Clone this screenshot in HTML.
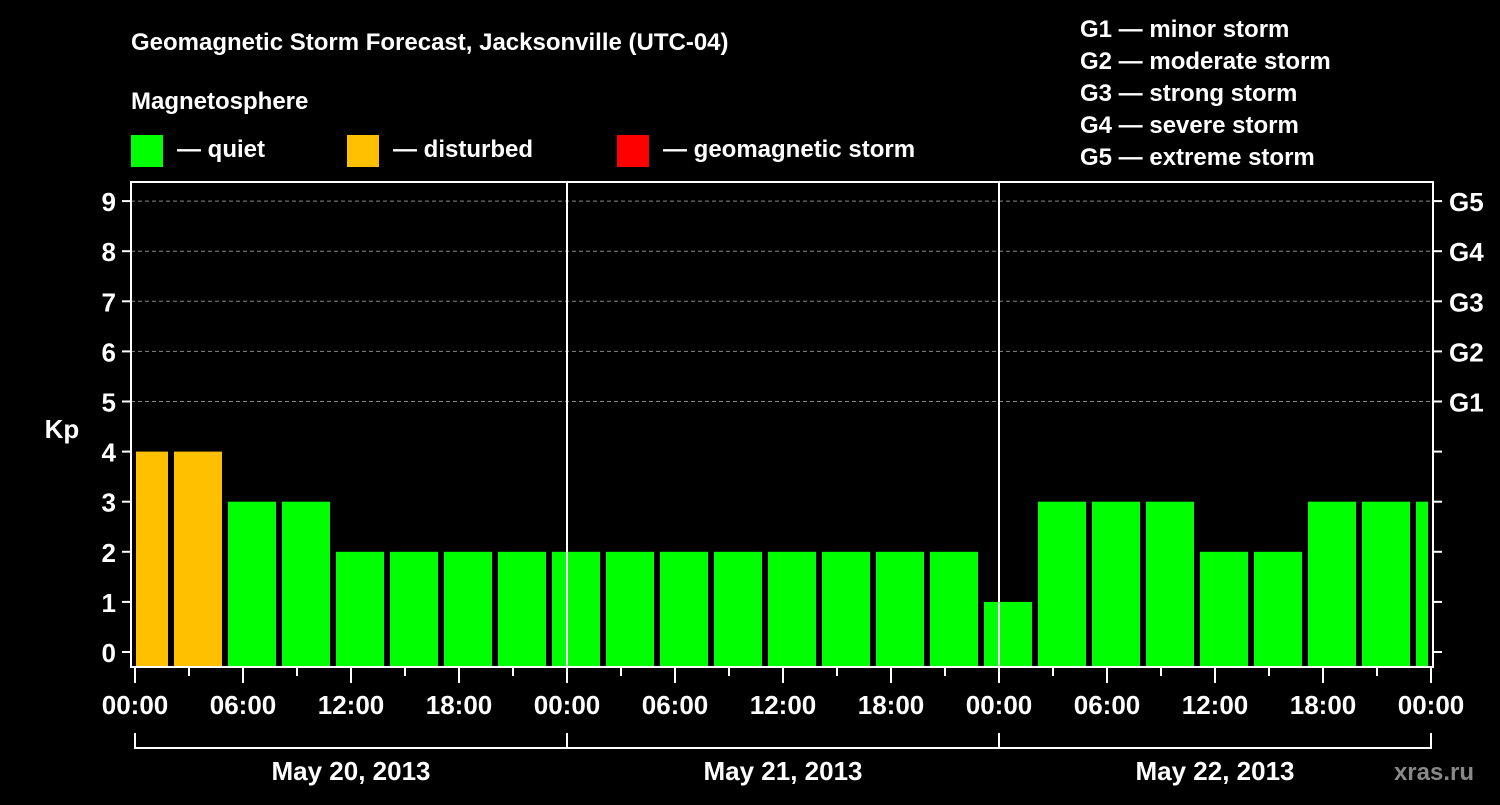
<!DOCTYPE html>
<html><head><meta charset="utf-8"><style>
body{margin:0;background:#000;width:1500px;height:800px;overflow:hidden}
svg text{font-family:"Liberation Sans",Arial,sans-serif;font-weight:bold;fill:#fff}
</style></head><body>
<svg id="c" width="1500" height="800">
<text x="131" y="50" font-size="24">Geomagnetic Storm Forecast, Jacksonville (UTC-04)</text>
<text x="131" y="109" font-size="24">Magnetosphere</text>
<g><rect x="131" y="135" width="32" height="32" fill="#00ff00"/><text x="177" y="157" font-size="24">— quiet</text></g>
<g><rect x="347" y="135" width="32" height="32" fill="#ffc000"/><text x="393" y="157" font-size="24">— disturbed</text></g>
<g><rect x="617" y="135" width="32" height="32" fill="#ff0000"/><text x="663" y="157" font-size="24">— geomagnetic storm</text></g>
<g font-size="24">
<text x="1080" y="37">G1 — minor storm</text><text x="1080" y="69">G2 — moderate storm</text><text x="1080" y="101">G3 — strong storm</text><text x="1080" y="133">G4 — severe storm</text><text x="1080" y="165">G5 — extreme storm</text></g>
<text x="62" y="438" font-size="26" text-anchor="middle">Kp</text>
<text x="1475" y="1810" font-size="24" text-anchor="end" fill="#999" style="fill:#999"></text>
<text x="1474" y="780" font-size="24" text-anchor="end" style="fill:#888">xras.ru</text>
<g id="g"></g>
</svg>
<script>
const kpValues=[4,4,3,3,2,2,2,2,2,2,2,2,2,2,2,2,1,3,3,3,2,2,3,3,3];
const yTicks=[0,1,2,3,4,5,6,7,8,9];
const gLabels=["G1","G2","G3","G4","G5"];
const gLevels=[5,6,7,8,9];
const hourLabels=["00:00","06:00","12:00","18:00"];
const dates=["May 20, 2013","May 21, 2013","May 22, 2013"];
const NS="http://www.w3.org/2000/svg",g=document.getElementById('g');
const X0=135,PXH=18,Y0=652,PXK=50.1,L=131,R=1433,T=182,B=667;
const x=h=>X0+h*PXH, y=k=>Y0-k*PXK;
function mk(t,a,txt){const e=document.createElementNS(NS,t);for(const k in a)e.setAttribute(k,a[k]);if(txt!==undefined)e.textContent=txt;g.appendChild(e);return e;}
// grid
gLevels.forEach((k,i)=>{
const l=mk('line',{x1:L,x2:R,y1:y(k),y2:y(k),stroke:'#888','stroke-dasharray':'4,3','stroke-width':1});


const t=mk('text',{x:1449,y:y(k)+10,'font-size':26},gLabels[i]);


});
// bars
kpValues.forEach((v,i)=>{
const h0=i*3-50/60, x1=Math.max(x(h0),136), x2=Math.min(x(h0)+48,1428);
const col=v>=5?'#ff0000':(v>=4?'#ffc000':'#00ff00');
const r=mk('rect',{x:x1,y:y(v),width:x2-x1,height:B-y(v),fill:col});


});
// day separators
[1,2].forEach(d=>{const l=mk('line',{x1:x(d*24),x2:x(d*24),y1:T,y2:B,stroke:'#fff','stroke-width':2});

});
// frame
const f=mk('rect',{x:L,y:T,width:R-L,height:B-T,fill:'none',stroke:'#fff','stroke-width':2});


// y ticks
yTicks.forEach(k=>{
mk('line',{x1:L-9,x2:L,y1:y(k),y2:y(k),stroke:'#fff','stroke-width':2});
mk('line',{x1:R,x2:R+9,y1:y(k),y2:y(k),stroke:'#fff','stroke-width':2});
const t=mk('text',{x:116,y:y(k)+10,'font-size':26,'text-anchor':'end'},String(k));


});
// x ticks
for(let h=0;h<=72;h+=3){
const major=h%6===0;
mk('line',{x1:x(h),x2:x(h),y1:B,y2:B+(major?16:9),stroke:'#fff','stroke-width':2});
if(major){const t=mk('text',{x:x(h),y:714,'font-size':26,'text-anchor':'middle'},hourLabels[(h/6)%4]);

}
}
// date brackets
dates.forEach((d,i)=>{
const a=x(i*24),b=x(i*24+24);
mk('path',{d:`M${a},733V748H${b}V733`,fill:'none',stroke:'#fff','stroke-width':2});
const t=mk('text',{x:(a+b)/2,y:780,'font-size':26,'text-anchor':'middle'},d);


});
</script>
</body></html>
